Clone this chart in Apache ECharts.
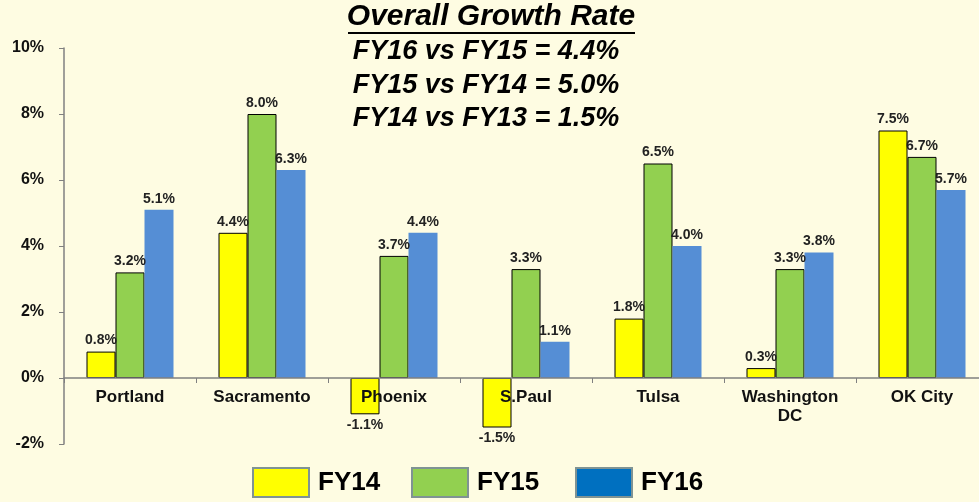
<!DOCTYPE html>
<html>
<head>
<meta charset="utf-8">
<script src="https://cdn.jsdelivr.net/npm/echarts@6/dist/echarts.min.js"></script>
<style>
html,body{margin:0;padding:0;background:#FEFCE2;overflow:hidden;}
#chart{width:992px;height:502px;}
</style>
</head>
<body>
<div id="chart"></div>
<script>
const categories = ['Portland', 'Sacramento', 'Phoenix', 'S.Paul', 'Tulsa', 'Washington\nDC', 'OK City'];
const fy14 = [0.8, 4.4, -1.1, -1.5, 1.8, 0.3, 7.5];
const fy15 = [3.2, 8.0, 3.7, 3.3, 6.5, 3.3, 6.7];
const fy16 = [5.1, 6.3, 4.4, 1.1, 4.0, 3.8, 5.7];
const seriesNames = ['FY14', 'FY15', 'FY16'];
const titleLines = ['Overall Growth Rate', 'FY16 vs FY15 = 4.4%', 'FY15 vs FY14 = 5.0%', 'FY14 vs FY13 = 1.5%'];
const yTicks = { min: -2, max: 10, interval: 2 };

const FONT = '"Liberation Sans", Arial, sans-serif';
const chart = echarts.init(document.getElementById('chart'));

function mkData(arr) {
  return arr.map(v => ({ value: v, label: { position: v < 0 ? 'bottom' : 'top' } }));
}
const labelCfg = {
  show: true,
  fontFamily: FONT,
  fontWeight: 'bold',
  fontSize: 14,
  color: '#222',
  distance: 4,
  formatter: p => p.value.toFixed(1) + '%'
};
const legendColors = ['#FFFF00', '#92D050', '#0070C0'];
const legendLeft = [252, 411, 575];
const legendTop = [467, 467, 467];

const option = {
  backgroundColor: '#FEFCE2',
  animation: false,
  grid: { left: 64, top: 48, width: 924, height: 396, containLabel: false },
  graphic: [
    { type: 'text', style: { text: titleLines[0], x: 491, y: 17, align: 'center', verticalAlign: 'middle', font: 'italic bold 30px ' + FONT, fill: '#000' } },
    { type: 'line', shape: { x1: 348, y1: 33, x2: 635, y2: 33 }, style: { stroke: '#000', lineWidth: 2 } },
    { type: 'text', style: { text: titleLines[1], x: 486, y: 52, align: 'center', verticalAlign: 'middle', font: 'italic bold 27px ' + FONT, fill: '#000' } },
    { type: 'text', style: { text: titleLines[2], x: 486, y: 86, align: 'center', verticalAlign: 'middle', font: 'italic bold 27px ' + FONT, fill: '#000' } },
    { type: 'text', style: { text: titleLines[3], x: 486, y: 119, align: 'center', verticalAlign: 'middle', font: 'italic bold 27px ' + FONT, fill: '#000' } }
  ],
  legend: seriesNames.map((n, i) => ({
    left: legendLeft[i],
    top: legendTop[i],
    padding: 0,
    itemWidth: 56,
    itemHeight: 29,
    icon: 'rect',
    textStyle: { fontFamily: FONT, fontWeight: 'bold', fontSize: 26, color: '#000', padding: [0, 0, 0, 4] },
    data: [{ name: n, itemStyle: { color: legendColors[i], borderColor: '#7F9393', borderWidth: 2 } }]
  })),
  xAxis: {
    type: 'category',
    data: categories,
    offset: -66,
    z: 5,
    axisLine: { onZero: false, lineStyle: { color: '#808080', width: 1.5 } },
    axisTick: { show: true, length: 5, lineStyle: { color: '#808080' } },
    axisLabel: { fontFamily: FONT, fontWeight: 'bold', fontSize: 17, color: '#111', margin: 10, lineHeight: 19, interval: 0 },
    splitLine: { show: false }
  },
  yAxis: {
    type: 'value',
    min: yTicks.min,
    max: yTicks.max,
    interval: yTicks.interval,
    axisLine: { show: true, lineStyle: { color: '#808080', width: 1.5 } },
    axisTick: { show: true, length: 5, lineStyle: { color: '#808080' } },
    axisLabel: { fontFamily: FONT, fontWeight: 'bold', fontSize: 16, color: '#111', margin: 20, formatter: '{value}%' },
    splitLine: { show: false }
  },
  series: [
    { name: seriesNames[0], type: 'bar', data: mkData(fy14), barWidth: 29, barGap: '0%',
      itemStyle: { color: '#FFFF00', borderColor: '#000', borderWidth: 1 }, label: labelCfg },
    { name: seriesNames[1], type: 'bar', data: mkData(fy15), barWidth: 29, barGap: '0%',
      itemStyle: { color: '#92D050', borderColor: '#000', borderWidth: 1 }, label: labelCfg },
    { name: seriesNames[2], type: 'bar', data: mkData(fy16), barWidth: 29, barGap: '0%',
      itemStyle: { color: '#558ED5', borderWidth: 0 }, label: labelCfg }
  ]
};
chart.setOption(option);
</script>
</body>
</html>
